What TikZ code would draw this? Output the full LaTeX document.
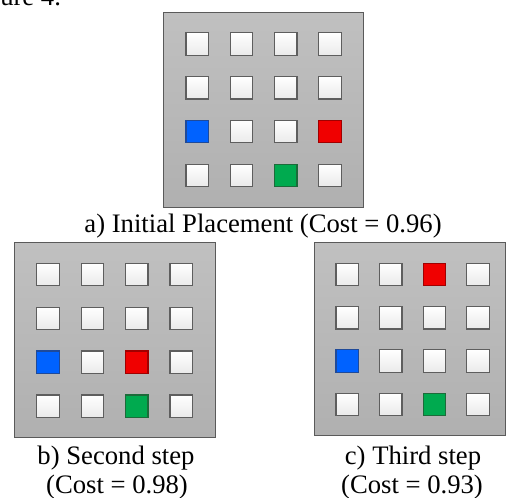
\documentclass[tikz,border=0pt]{standalone}
\usepackage{fontspec}
\setmainfont{Liberation Serif}
\definecolor{paneltop}{HTML}{C0C0C0}
\definecolor{panelbot}{HTML}{B0B0B0}
\definecolor{panelborder}{HTML}{5A5A5A}
\definecolor{cellborder}{HTML}{5E5E5E}
\definecolor{cellbot}{HTML}{EAEAEA}
\definecolor{cblue}{HTML}{0062FF}
\definecolor{cbluebd}{HTML}{1F4A99}
\definecolor{cred}{HTML}{F00000}
\definecolor{credbd}{HTML}{A00000}
\definecolor{cgreen}{HTML}{00AA4F}
\definecolor{cgreenbd}{HTML}{1C6B3A}
\tikzset{
  panel/.style={draw=panelborder, line width=0.8pt, top color=paneltop, bottom color=panelbot, inner sep=0pt, anchor=north west},
  cell/.style={draw=cellborder, line width=0.9pt, top color=white, bottom color=cellbot, minimum size=16.9pt, inner sep=0pt},
  bluecell/.style={draw=cbluebd, top color=cblue, bottom color=cblue},
  redcell/.style={draw=credbd, top color=cred, bottom color=cred},
  greencell/.style={draw=cgreenbd, top color=cgreen, bottom color=cgreen},
  caption/.style={font=\fontsize{20}{24}\selectfont, inner sep=0pt, anchor=base},
  % coloured cells of each panel
  colpa-3-1/.style={bluecell}, colpa-3-4/.style={redcell}, colpa-4-3/.style={greencell},
  colpb-3-1/.style={bluecell}, colpb-3-3/.style={redcell}, colpb-4-3/.style={greencell},
  colpc-1-3/.style={redcell}, colpc-3-1/.style={bluecell}, colpc-4-3/.style={greencell},
}
% #1 name, #2 x0, #3 y0, #4 w, #5 h, #6 ox, #7 oy, #8 pitch x, #9 pitch y  (all in px)
\newcommand\drawgridpanel[9]{%
  \node[panel, minimum width={#4*0.75pt}, minimum height={#5*0.75pt}] (#1) at (#2,#3) {};
  \foreach \r in {1,...,4}{
    \foreach \c in {1,...,4}{
      \node[cell, col#1-\r-\c/.try] (#1-\r-\c) at ({#2+#6+#8*(\c-1)},{#3+#7+#9*(\r-1)}) {};
    }
  }%
}
\begin{document}
\begin{tikzpicture}[x=0.75pt,y=-0.75pt]
\useasboundingbox (0,0) rectangle (507,497);
% cut-off line of text at the top
\begin{scope}
\clip (0,0) rectangle (120,12);
\node[caption, anchor=base west] (frag) at (0,5) {ure 4.};
\end{scope}
\drawgridpanel{pa}{163}{12}{200}{195}{34.3}{32}{44.2}{43.8}
\drawgridpanel{pb}{14}{242}{201}{195}{34}{32.5}{44.4}{43.9}
\drawgridpanel{pc}{314}{242}{191}{193}{33.2}{32.5}{43.6}{43.3}
\node[caption] (capa) at (263,232) {a) Initial Placement (Cost = 0.96)};
\node[caption] (capb1) at (116,464) {b) Second step};
\node[caption] (capb2) at (117,493) {(Cost = 0.98)};
\node[caption] (capc1) at (413,464) {c) Third step};
\node[caption] (capc2) at (412,493) {(Cost = 0.93)};
\end{tikzpicture}
\end{document}
